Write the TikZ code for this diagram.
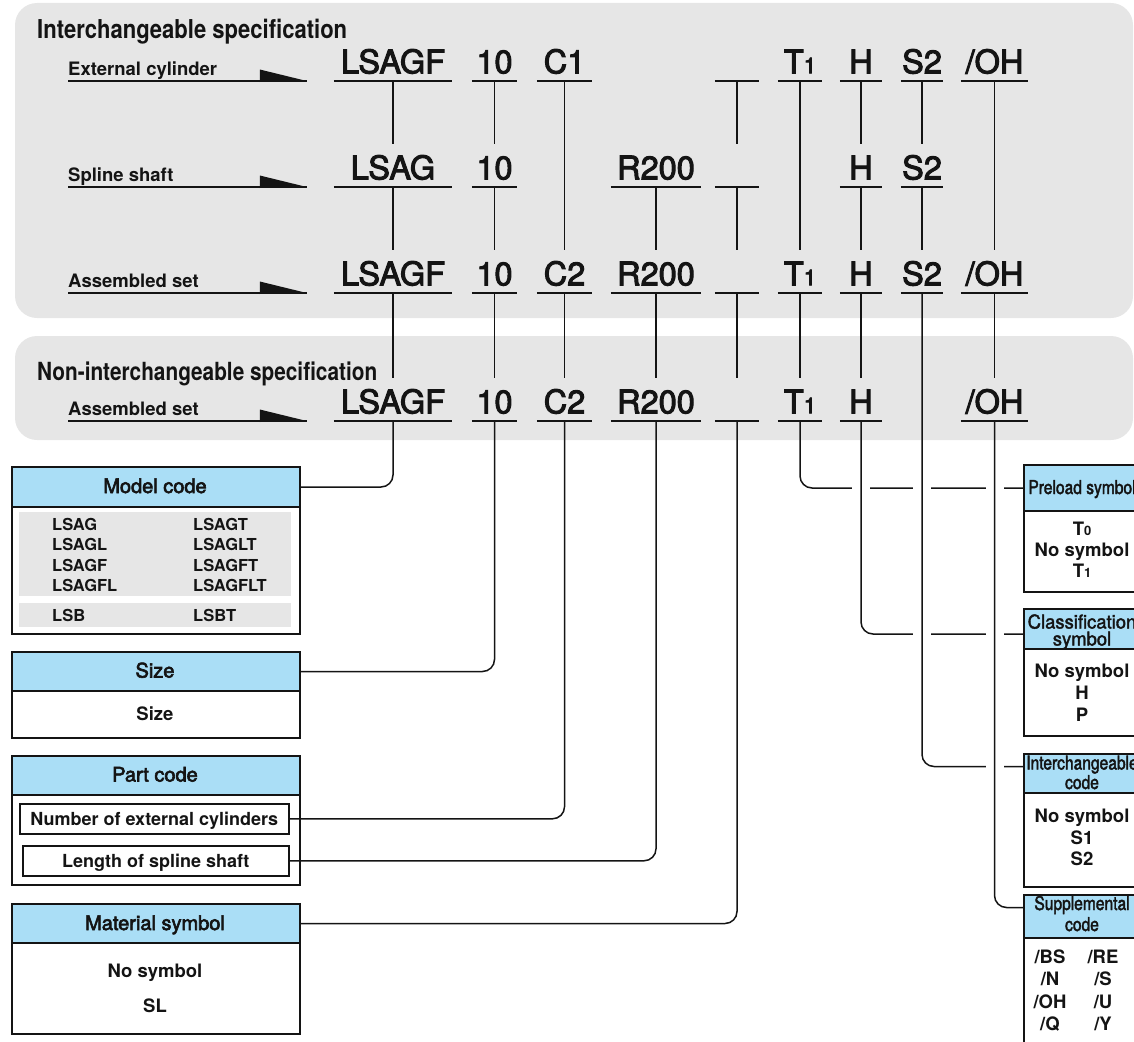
\documentclass[tikz,border=0pt]{standalone}
\usepackage{fontspec}
\usepackage{graphicx}
\setmainfont{TeX Gyre Heros}
\newfontfamily\medf[FakeBold=3]{TeX Gyre Heros}
\newfontfamily\cndf[FakeStretch=0.82,FakeBold=2]{TeX Gyre Heros}
\newfontfamily\wdf[FakeStretch=0.97,FakeBold=2]{TeX Gyre Heros}
\newcommand\setfs[1]{\fontsize{#1}{#1}\selectfont}
\newcommand\Tsub[2]{T{\setfs{#2}#1}}
\definecolor{panelgrey}{RGB}{230,230,230}
\definecolor{hdrblue}{RGB}{170,222,246}
\definecolor{ink}{RGB}{20,20,20}
\tikzset{
  every node/.style={inner sep=0pt, text=ink},
  code/.style={anchor=south, text height=23pt, text depth=7.5pt, minimum width=#1, font=\medf\setfs{32.5}},
  ul/.style={draw=ink, line width=1.8pt},
  vline/.style={draw=ink, line width=1.3pt},
  conn/.style={draw=ink, line width=1.5pt, rounded corners=12pt},
  halo/.style={draw=white, line width=18pt},
  lbl/.style={anchor=base west, font=\bfseries\setfs{18.5}},
  ttl/.style={anchor=base west},
  hdr/.style={draw=ink, line width=2pt, fill=hdrblue, anchor=north west, minimum width=#1},
  bodybox/.style={draw=ink, line width=2pt, fill=white, anchor=north west, minimum width=#1},
  htxt/.style={anchor=base, font=\medf\setfs{20}},
  btxt/.style={anchor=base, font=\bfseries\setfs{18.5}},
  mtxt/.style={anchor=base west, font=\bfseries\setfs{16.5}},
  rhtxt/.style={anchor=base, font=\cndf\setfs{19}},
  rhwtxt/.style={anchor=base, font=\wdf\setfs{19}},
  inbox/.style={draw=ink, line width=1.6pt, anchor=north west, minimum height=30pt, text height=13.5pt, text depth=0pt, font=\bfseries\setfs{18}},
}
\begin{document}
\begin{tikzpicture}[x=1pt,y=-1pt]
\useasboundingbox (0,0) rectangle (1134,1041);
\clip (0,0) rectangle (1134,1041);
% panels
\fill[panelgrey, rounded corners=22pt] (15,3) rectangle (1133,318);
\fill[panelgrey, rounded corners=22pt] (15,336) rectangle (1133,440);
% titles
\node[ttl] (t1) at (37,39) {\resizebox{310pt}{\height}{\bfseries\setfs{26}Interchangeable specification}};
\node[ttl] (t2) at (37,380) {\resizebox{340pt}{\height}{\bfseries\setfs{25}Non-interchangeable specification}};
% row 1
\node[code=118pt] (n1a) at (393,81) {LSAGF};
\node[code=45pt] (n1b) at (494.5,81) {10};
\node[code=55pt] (n1c) at (564.5,81) {C1};
\node[code=44pt] (n1e) at (737,81) {};
\node[code=44pt] (n1f) at (800,81) {\Tsub{1}{22}};
\node[code=42pt] (n1g) at (861,81) {H};
\node[code=42pt] (n1h) at (922,81) {S2};
\node[code=67pt] (n1i) at (994.5,81) {/OH};
% row 2
\node[code=118pt] (n2a) at (393,187) {LSAG};
\node[code=45pt] (n2b) at (494.5,187) {10};
\node[code=90pt] (n2d) at (656,187) {R200};
\node[code=44pt] (n2e) at (737,187) {};
\node[code=42pt] (n2g) at (861,187) {H};
\node[code=42pt] (n2h) at (922,187) {S2};
% row 3
\node[code=118pt] (n3a) at (393,293) {LSAGF};
\node[code=45pt] (n3b) at (494.5,293) {10};
\node[code=55pt] (n3c) at (564.5,293) {C2};
\node[code=90pt] (n3d) at (656,293) {R200};
\node[code=44pt] (n3e) at (737,293) {};
\node[code=44pt] (n3f) at (800,293) {\Tsub{1}{22}};
\node[code=42pt] (n3g) at (861,293) {H};
\node[code=42pt] (n3h) at (922,293) {S2};
\node[code=67pt] (n3i) at (994.5,293) {/OH};
% row 4
\node[code=118pt] (n4a) at (393,421) {LSAGF};
\node[code=45pt] (n4b) at (494.5,421) {10};
\node[code=55pt] (n4c) at (564.5,421) {C2};
\node[code=90pt] (n4d) at (656,421) {R200};
\node[code=44pt] (n4e) at (737,421) {};
\node[code=44pt] (n4f) at (800,421) {\Tsub{1}{22}};
\node[code=42pt] (n4g) at (861,421) {H};
\node[code=67pt] (n4i) at (994.5,421) {/OH};
% underlines
\foreach \n in {n1a,n1b,n1c,n1e,n1f,n1g,n1h,n1i,n2a,n2b,n2d,n2e,n2g,n2h,n3a,n3b,n3c,n3d,n3e,n3f,n3g,n3h,n3i,n4a,n4b,n4c,n4d,n4e,n4f,n4g,n4i}
  \draw[ul] (\n.south west) -- (\n.south east);
% verticals between rows
\foreach \a/\b in {n1a/n2a,n1b/n2b,n1e/n2e,n1g/n2g,n1h/n2h,n1c/n3c,n1f/n3f,n1i/n3i,n2a/n3a,n2b/n3b,n2d/n3d,n2e/n3e,n2g/n3g,n2h/n3h,n3a/n4a,n3b/n4b,n3c/n4c,n3d/n4d,n3e/n4e,n3f/n4f,n3g/n4g,n3i/n4i}
  \draw[vline] (\a.south) -- ([yshift=12pt]\b.north);
% row labels with arrows
\node[lbl] (l1) at (68,75.5) {External cylinder};
\node[lbl] (l2) at (68,181.5) {Spline shaft};
\node[lbl] (l3) at (68,287.5) {Assembled set};
\node[lbl] (l4) at (68,415.5) {Assembled set};
\foreach \l/\n/\k in {l1/n1a/1,l2/n2a/2,l3/n3a/3,l4/n4a/4}{
  \coordinate (a\k) at ([xshift=-27pt]\n.south west);
  \draw[ul] (\l.base west |- a\k) -- (a\k);
  \fill[ink] (a\k) -- ++(-47,-11.5) -- ++(0,12.5) -- cycle;
}
% ---------- left boxes ----------
% Model code
\node[bodybox=288pt, minimum height=127pt] (mcb) at (11,506) {};
\fill[panelgrey] (19,512) rectangle (291,596);
\fill[panelgrey] (19,603) rectangle (291,627);
\node[hdr=288pt, minimum height=40pt] (mch) at (11,466) {};
\node[htxt] (mct) at (155,493) {Model code};
\foreach \i/\y/\l/\r in {1/530/LSAG/LSAGT,2/550.5/LSAGL/LSAGLT,3/571/LSAGF/LSAGFT,4/591.5/LSAGFL/LSAGFLT,5/621/LSB/LSBT}{
  \node[mtxt] (mcl\i) at (52,\y) {\l};
  \node[mtxt] (mcr\i) at (193,\y) {\r};
}
% Size
\node[bodybox=288pt, minimum height=47pt] (szb) at (11,690) {};
\node[hdr=288pt, minimum height=39pt] (szh) at (11,651) {};
\node[htxt] (szt) at (155,677.5) {Size};
\node[btxt] (szv) at (155,720) {Size};
% Part code
\node[bodybox=288pt, minimum height=90pt] (pcb) at (11,794) {};
\node[hdr=288pt, minimum height=39pt] (pch) at (11,755) {};
\node[htxt] (pct) at (155,781.5) {Part code};
\node[inbox, minimum width=269pt] (pc1) at (19,803) {Number of external cylinders};
\node[inbox, minimum width=266pt] (pc2) at (22,845) {Length of spline shaft};
% Material symbol
\node[bodybox=288pt, minimum height=91pt] (mtb) at (11,942) {};
\node[hdr=288pt, minimum height=39pt] (mth) at (11,903) {};
\node[htxt] (mtt) at (155,930) {Material symbol};
\node[btxt] (mt1) at (155,977) {No symbol};
\node[btxt] (mt2) at (155,1012) {SL};
% left connectors
\draw[conn] (n4a.south) |- (mch.east);
\draw[conn] (n4b.south) |- (szh.east);
\draw[conn] (n4c.south) |- (pc1.east);
\draw[conn] (n4d.south) |- (pc2.east);
\draw[conn] (n4e.south) |- (mth.east);
% ---------- right boxes ----------
\node[bodybox=118pt, minimum height=81pt] (plb) at (1023,510) {};
\node[hdr=118pt, minimum height=46pt] (plh) at (1023,464) {};
\node[bodybox=118pt, minimum height=87pt] (clb) at (1023,648) {};
\node[hdr=118pt, minimum height=40pt] (clh) at (1023,608) {};
\node[bodybox=118pt, minimum height=94pt] (icb) at (1023,792) {};
\node[hdr=118pt, minimum height=39pt] (ich) at (1023,753) {};
\node[bodybox=118pt, minimum height=130pt] (sub) at (1023,937) {};
\node[hdr=118pt, minimum height=43pt] (suh) at (1023,894) {};
% right connectors with line jumps
\draw[conn] (n4f.south) |- (plh.west);
\draw[halo] ([yshift=-20pt]n4g.south) -- (n4g.south |- clh.west);
\draw[conn] (n4g.south) |- ([yshift=-5pt]clh.west);
\draw[halo] (n3h.south |- 0,441) -- (n3h.south |- ich.west);
\draw[conn] (n3h.south) |- ([yshift=7pt]ich.west);
\draw[halo] ([yshift=-20pt]n4i.south) -- (n4i.south |- suh.west);
\draw[conn] (n4i.south) |- ([yshift=9pt]suh.west);
% right box texts
\node[rhtxt] (plt) at (1082,494) {Preload symbol};
\node[btxt] (pl1) at (1082,535) {\Tsub{0}{13}};
\node[btxt] (pl2) at (1082,556) {No symbol};
\node[btxt] (pl3) at (1082,577) {\Tsub{1}{13}};
\node[rhwtxt] (clt1) at (1082,628.5) {Classification};
\node[rhwtxt] (clt2) at (1082,645.5) {symbol};
\node[btxt] (cl1) at (1082,677) {No symbol};
\node[btxt] (cl2) at (1082,699) {H};
\node[btxt] (cl3) at (1082,721) {P};
\node[rhtxt] (ict1) at (1082,769.5) {Interchangeable};
\node[rhtxt] (ict2) at (1082,789) {code};
\node[btxt] (ic1) at (1082,822) {No symbol};
\node[btxt] (ic2) at (1082,844) {S1};
\node[btxt] (ic3) at (1082,865) {S2};
\node[rhtxt] (sut1) at (1082,910) {Supplemental};
\node[rhtxt] (sut2) at (1082,931) {code};
\foreach \i/\y/\l/\r in {1/963/BS/RE,2/985/N/S,3/1008/OH/U,4/1030/Q/Y}{
  \node[btxt] (sul\i) at (1050,\y) {/\l};
  \node[btxt] (sur\i) at (1103,\y) {/\r};
}
\end{tikzpicture}
\end{document}
